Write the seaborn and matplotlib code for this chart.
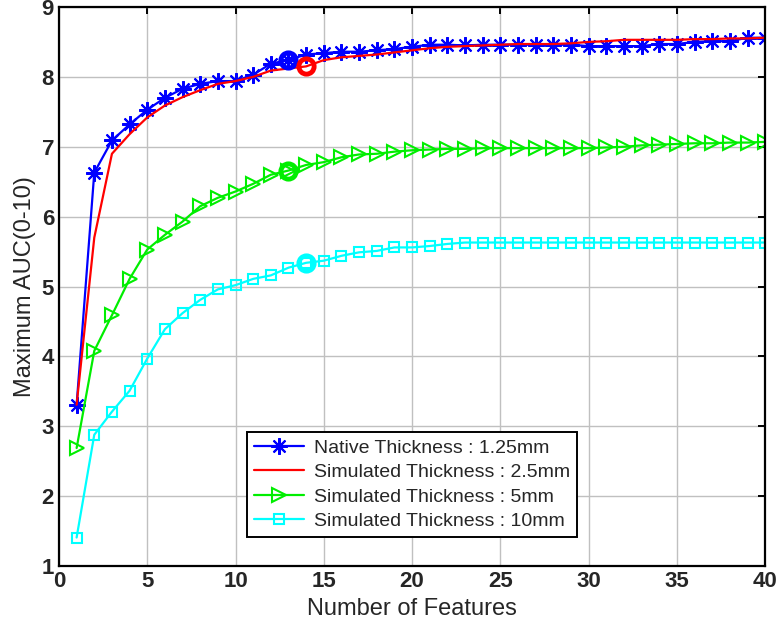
import matplotlib
matplotlib.use('Agg')
import matplotlib.pyplot as plt
import pandas as pd
import seaborn as sns

# Data
features = list(range(1, 41))
native_125 = [3.31, 6.63, 7.09, 7.32, 7.53, 7.70, 7.83, 7.90, 7.94, 7.94,
              8.03, 8.19, 8.24, 8.32, 8.34, 8.36, 8.36, 8.38, 8.40, 8.43,
              8.46, 8.46, 8.45, 8.46, 8.46, 8.46, 8.46, 8.46, 8.46, 8.44,
              8.44, 8.44, 8.44, 8.47, 8.47, 8.50, 8.51, 8.51, 8.56, 8.56]
sim_25 = [3.31, 5.70, 6.90, 7.18, 7.42, 7.59, 7.71, 7.81, 7.90, 7.94,
          8.00, 8.09, 8.12, 8.15, 8.24, 8.28, 8.30, 8.32, 8.35, 8.38,
          8.41, 8.43, 8.44, 8.45, 8.46, 8.47, 8.47, 8.47, 8.48, 8.50,
          8.51, 8.53, 8.53, 8.53, 8.53, 8.54, 8.54, 8.55, 8.55, 8.56]
sim_5 = [2.69, 4.08, 4.59, 5.11, 5.53, 5.74, 5.93, 6.15, 6.27, 6.36,
         6.47, 6.60, 6.66, 6.74, 6.78, 6.85, 6.89, 6.90, 6.93, 6.95,
         6.96, 6.97, 6.97, 6.98, 6.98, 6.98, 6.98, 6.98, 6.98, 6.98,
         6.99, 7.00, 7.02, 7.03, 7.04, 7.05, 7.05, 7.06, 7.06, 7.07]
sim_10 = [1.41, 2.88, 3.21, 3.51, 3.97, 4.39, 4.62, 4.81, 4.96, 5.02,
          5.11, 5.16, 5.27, 5.34, 5.37, 5.44, 5.49, 5.51, 5.56, 5.56,
          5.58, 5.61, 5.63, 5.63, 5.63, 5.63, 5.63, 5.63, 5.63, 5.63,
          5.63, 5.63, 5.63, 5.63, 5.63, 5.63, 5.63, 5.63, 5.63, 5.63]
labels = ['Native Thickness : 1.25mm', 'Simulated Thickness : 2.5mm',
          'Simulated Thickness : 5mm', 'Simulated Thickness : 10mm']
# number of features where each curve is circled
best_n = [13, 14, 13, 14]

series = [native_125, sim_25, sim_5, sim_10]
colors = ['#0000ff', '#ff0000', '#00ee00', '#00ffff']
styles = [dict(marker=(8, 2, 0), markersize=12, markeredgewidth=1.5),
          dict(marker=None),
          dict(marker='>', markersize=10, markerfacecolor='none', markeredgewidth=1.5),
          dict(marker='s', markersize=7, markerfacecolor='none', markeredgewidth=1.5)]

sns.set_style('whitegrid')
plt.rcParams['font.family'] = ['Liberation Sans', 'DejaVu Sans']

fig, ax = plt.subplots(figsize=(7.8, 6.34), dpi=100)
fig.subplots_adjust(left=0.0756, right=0.981, top=0.989, bottom=0.107)

for vals, lab, col, st in zip(series, labels, colors, styles):
    df = pd.DataFrame({'n': features, 'auc': vals})
    sns.lineplot(data=df, x='n', y='auc', ax=ax, color=col, linewidth=1.6,
                 label=lab, markeredgecolor=col, **st)

# circle the selected point on each curve
for vals, col, n in zip(series, colors, best_n):
    ax.plot(features[n - 1], vals[n - 1], 'o', markersize=11,
            markerfacecolor='none', markeredgecolor=col, markeredgewidth=3.5)

ax.set_xlim(0, 40)
ax.set_ylim(1, 9)
ax.set_xticks(range(0, 41, 5))
ax.set_yticks(range(1, 10))
ax.grid(True, color='#c0c0c0', linewidth=1.0)
for s in ax.spines.values():
    s.set_color('black')
    s.set_linewidth(1.6)
ax.tick_params(direction='in', length=5, width=1.4, color='black',
               top=True, right=True, labelsize=16)
for t in ax.get_xticklabels() + ax.get_yticklabels():
    t.set_fontweight('bold')
ax.set_xlabel('Number of Features', fontsize=17)
ax.set_ylabel('Maximum AUC(0-10)', fontsize=17)

leg = ax.legend(loc='lower center', bbox_to_anchor=(0.5, 0.035), fontsize=14,
                frameon=True, fancybox=False, framealpha=1, edgecolor='black',
                handlelength=2.6, labelspacing=0.35, borderpad=0.35,
                handletextpad=0.5)
leg.get_frame().set_linewidth(1.4)

fig.savefig('out.png', dpi=100)
